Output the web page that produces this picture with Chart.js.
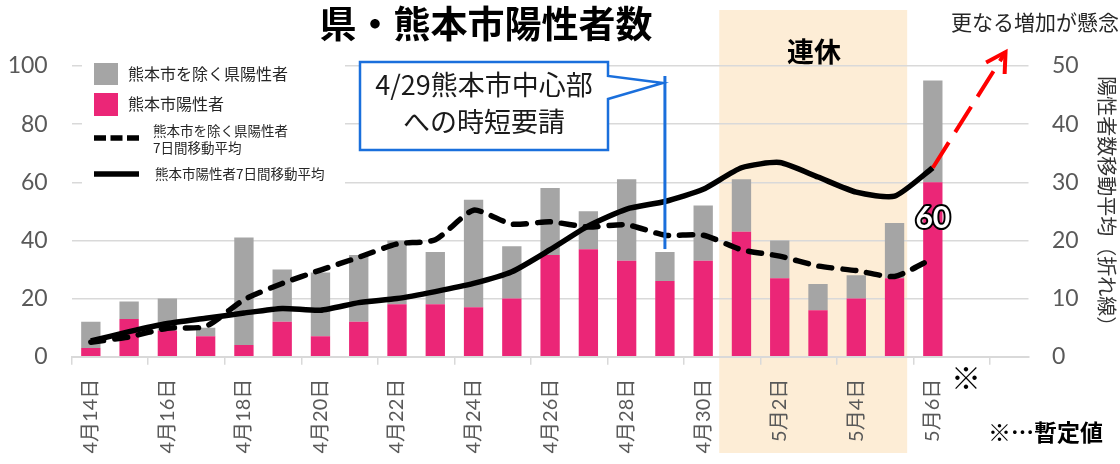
<!DOCTYPE html>
<html>
<head>
<meta charset="utf-8">
<script src="https://cdn.jsdelivr.net/npm/chart.js@4.4.1/dist/chart.umd.min.js"></script>
<style>
  body { margin: 0; background: #fff; }
  canvas { display: block; }
</style>
</head>
<body>
<canvas id="covidChart" width="1120" height="464"></canvas>
<script>
// categories (4/14 .. 5/8, the last two are empty slots)
var days = ['4月14日','4月15日','4月16日','4月17日','4月18日','4月19日','4月20日','4月21日',
            '4月22日','4月23日','4月24日','4月25日','4月26日','4月27日','4月28日','4月29日',
            '4月30日','5月1日','5月2日','5月3日','5月4日','5月5日','5月6日','5月7日','5月8日'];
var shownTicks = ['4月14日','4月16日','4月18日','4月20日','4月22日','4月24日',
                  '4月26日','4月28日','4月30日','5月2日','5月4日','5月6日'];

// daily counts (bars, left axis)
var totalCases = [12, 19, 20, 10, 41, 30, 29, 35, 40, 36, 54, 38, 58, 50, 61, 36, 52, 61, 40, 25, 28, 46, 95];
var cityCases  = [ 3, 13,  9,  7,  4, 12,  7, 12, 18, 18, 17, 20, 35, 37, 33, 26, 33, 43, 27, 16, 20, 27, 60];

// 7-day moving averages (lines, right axis)
var cityAvg7  = [2.7, 4.3, 5.7, 6.6, 7.5, 8.3, 8.0, 9.3, 10.0, 11.2, 12.6, 14.6, 18.4, 22.5, 25.4, 26.7, 28.8, 32.5, 33.4, 30.9, 28.3, 27.6, 32.5];
var otherAvg7 = [2.5, 3.4, 4.9, 5.2, 9.8, 12.6, 14.9, 17.1, 19.4, 20.1, 25.2, 22.8, 23.2, 22.3, 22.7, 20.9, 20.9, 18.4, 17.3, 15.6, 14.8, 13.8, 16.9];

var leftTicks = [0, 20, 40, 60, 80, 100];
var rightTicks = [0, 10, 20, 30, 40, 50];

var otherCases = totalCases.map(function(t, i) { return t - cityCases[i]; });

var PINK = '#eb2677';
var GREY = '#a5a5a5';
var JP = "'Noto Sans CJK JP', sans-serif";
var NUM = "Lato, 'Noto Sans CJK JP', sans-serif";

var decor = {
    id: 'decor',
    beforeDraw: function(chart) {
        var ctx = chart.ctx, x = chart.scales.x;
        // 連休 band
        var l = x.getPixelForValue(16.42), r = x.getPixelForValue(21.33);
        ctx.save();
        ctx.fillStyle = '#fdedd6';
        ctx.fillRect(l, 10, r - l, 443);
        ctx.restore();
    },
    afterDatasetsDraw: function(chart) {
        var ctx = chart.ctx, x = chart.scales.x, y = chart.scales.y, y2 = chart.scales.y2;
        ctx.save();

        // legend
        ctx.fillStyle = '#fff';
        ctx.fillRect(82, 52, 263, 140);
        ctx.fillStyle = GREY; ctx.fillRect(94, 63, 24, 22);
        ctx.fillStyle = PINK; ctx.fillRect(94, 93, 24, 23);
        ctx.fillStyle = '#262626';
        ctx.textAlign = 'left'; ctx.textBaseline = 'middle';
        ctx.font = '16px ' + JP;
        ctx.fillText('熊本市を除く県陽性者', 128, 74);
        ctx.fillText('熊本市陽性者', 128, 104);
        ctx.font = '13.5px ' + JP;
        ctx.fillText('熊本市を除く県陽性者', 153, 131);
        ctx.fillText('7日間移動平均', 153, 148);
        ctx.fillText('熊本市陽性者7日間移動平均', 155, 174);
        ctx.strokeStyle = '#000'; ctx.lineWidth = 5.5;
        ctx.setLineDash([12, 4.5]);
        ctx.beginPath(); ctx.moveTo(94, 138); ctx.lineTo(139, 138); ctx.stroke();
        ctx.setLineDash([]);
        ctx.beginPath(); ctx.moveTo(94, 174); ctx.lineTo(139, 174); ctx.stroke();

        // callout for 4/29
        var bx = x.getPixelForValue(15);
        ctx.beginPath();
        ctx.moveTo(360, 62); ctx.lineTo(608, 62); ctx.lineTo(608, 76);
        ctx.lineTo(bx - 2, 83); ctx.lineTo(608, 99); ctx.lineTo(608, 150);
        ctx.lineTo(360, 150); ctx.closePath();
        ctx.fillStyle = '#fff'; ctx.fill();
        ctx.strokeStyle = '#1a6fdc'; ctx.lineWidth = 2.5; ctx.stroke();
        ctx.beginPath();
        ctx.lineWidth = 3;
        ctx.moveTo(bx, 76); ctx.lineTo(bx, y.getPixelForValue(totalCases[15]) - 3);
        ctx.stroke();
        ctx.fillStyle = '#1a1a1a';
        ctx.textAlign = 'center';
        ctx.font = '27px ' + JP;
        ctx.fillText('4/29熊本市中心部', 484, 85);
        ctx.fillText('への時短要請', 484, 122);

        // red dashed arrow
        var p = chart.getDatasetMeta(0).data[22];
        var tx = x.getPixelForValue(23.9), ty = y2.getPixelForValue(52.4);
        ctx.strokeStyle = '#ff0000'; ctx.lineWidth = 4;
        ctx.setLineDash([30, 12]);
        ctx.beginPath(); ctx.moveTo(p.x, p.y); ctx.lineTo(tx, ty); ctx.stroke();
        ctx.setLineDash([]);
        var ang = Math.atan2(p.y - ty, p.x - tx);
        ctx.beginPath();
        ctx.moveTo(tx + 22 * Math.cos(ang + 0.52), ty + 22 * Math.sin(ang + 0.52));
        ctx.lineTo(tx, ty);
        ctx.lineTo(tx + 22 * Math.cos(ang - 0.52), ty + 22 * Math.sin(ang - 0.52));
        ctx.stroke();

        // value label on 5/6 bar
        var bar = chart.getDatasetMeta(2).data[22];
        ctx.font = 'bold 30px ' + NUM;
        ctx.lineWidth = 4; ctx.strokeStyle = '#000'; ctx.lineJoin = 'round';
        ctx.strokeText(String(cityCases[22]), bar.x, bar.y + 36);
        ctx.fillStyle = '#fff';
        ctx.fillText(String(cityCases[22]), bar.x, bar.y + 36);

        // texts
        ctx.fillStyle = '#000';
        ctx.font = 'bold 37px ' + JP;
        ctx.fillText('県・熊本市陽性者数', 486, 24);
        ctx.font = 'bold 27px ' + JP;
        ctx.fillText('連休', 814, 52);
        ctx.font = 'bold 30px ' + JP;
        ctx.fillText('※', 966, 378);
        ctx.textAlign = 'left';
        ctx.font = 'bold 23px ' + JP;
        ctx.fillText('※…暫定値', 988, 432);
        ctx.fillStyle = '#262626';
        ctx.font = '21px ' + JP;
        ctx.fillText('更なる増加が懸念', 951, 22);
        ctx.restore();
    }
};

var ctx = document.getElementById('covidChart');
var covidChart = new Chart(ctx, {
    data: {
        labels: days,
        datasets: [
            {
                type: 'line', label: '熊本市陽性者7日間移動平均', data: cityAvg7, yAxisID: 'y2',
                borderColor: '#000', borderWidth: 5.5, pointRadius: 0, tension: 0.2, order: 0
            },
            {
                type: 'line', label: '熊本市を除く県陽性者7日間移動平均', data: otherAvg7, yAxisID: 'y2',
                borderColor: '#000', borderWidth: 5.5, borderDash: [13, 11], borderCapStyle: 'round',
                pointRadius: 0, tension: 0.2, order: 0
            },
            {
                type: 'bar', label: '熊本市陽性者', data: cityCases, yAxisID: 'y',
                backgroundColor: PINK, categoryPercentage: 1, barPercentage: 0.505, order: 1
            },
            {
                type: 'bar', label: '熊本市を除く県陽性者', data: otherCases, yAxisID: 'y',
                backgroundColor: GREY, categoryPercentage: 1, barPercentage: 0.505, order: 1
            }
        ]
    },
    options: {
        responsive: false,
        animation: false,
        devicePixelRatio: 1,
        events: [],
        layout: { padding: { top: 66, left: 0, right: 0, bottom: 0 } },
        plugins: { legend: { display: false }, tooltip: { enabled: false } },
        scales: {
            x: {
                stacked: true,
                offset: true,
                grid: {
                    offset: true, drawOnChartArea: false, tickLength: 8, lineWidth: 1.5,
                    color: function(c) { return (c.index % 2 === 0) ? '#d9d9d9' : 'rgba(0,0,0,0)'; }
                },
                border: { color: '#d9d9d9', width: 2 },
                ticks: {
                    autoSkip: false, minRotation: 90, maxRotation: 90, padding: 14,
                    color: '#595959', font: { family: NUM, size: 20 },
                    callback: function(v, i) { return shownTicks.indexOf(days[i]) >= 0 ? days[i] : ''; }
                },
                afterFit: function(s) { s.height = 107.3; }
            },
            y: {
                position: 'left', stacked: true, min: 0, max: 100,
                afterBuildTicks: function(s) { s.ticks = leftTicks.map(function(v) { return { value: v }; }); },
                ticks: { padding: 24, color: '#595959', font: { family: NUM, size: 23 } },
                grid: { color: '#d9d9d9', lineWidth: 1.5, drawTicks: false },
                border: { display: false },
                afterFit: function(s) { s.width = 71.7; }
            },
            y2: {
                position: 'right', min: 0, max: 50,
                afterBuildTicks: function(s) { s.ticks = rightTicks.map(function(v) { return { value: v }; }); },
                ticks: { padding: 23.5, color: '#595959', font: { family: NUM, size: 23 } },
                grid: { drawOnChartArea: false, drawTicks: false },
                border: { display: false },
                title: {
                    display: true, text: '陽性者数移動平均（折れ線）　', color: '#333',
                    font: { family: JP, size: 20 }, padding: { top: 1, bottom: 0 }
                },
                afterFit: function(s) { s.width = 91.5; }
            }
        }
    },
    plugins: [decor]
});
</script>
</body>
</html>
